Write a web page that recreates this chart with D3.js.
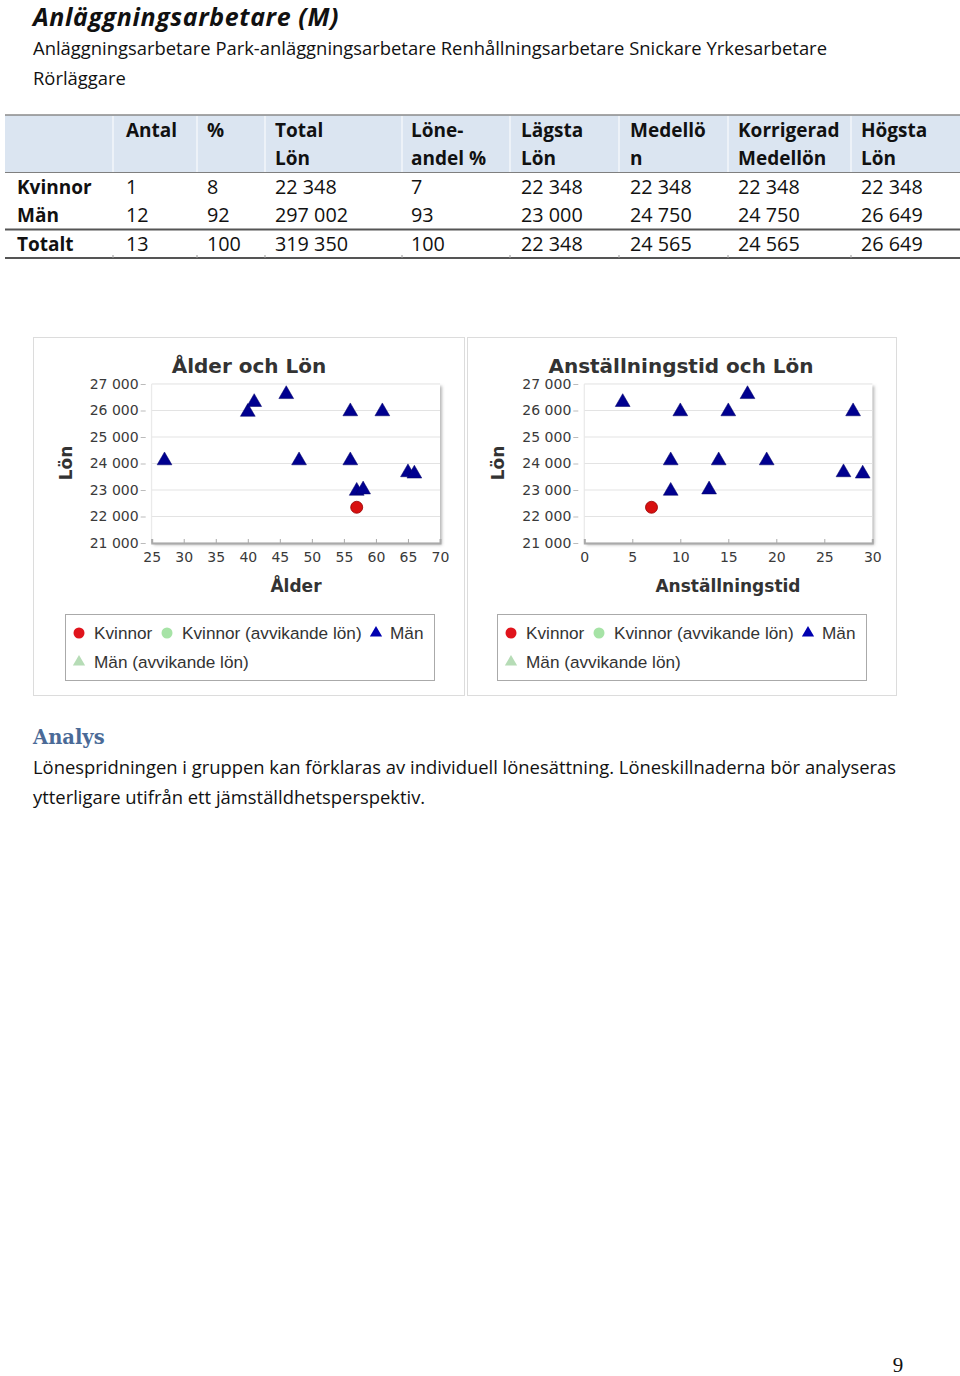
<!DOCTYPE html>
<html><head><meta charset="utf-8">
<script src="https://cdn.jsdelivr.net/npm/d3@7"></script>
<style>
html,body{margin:0;padding:0;background:#fff;}
svg{display:block;}
</style></head>
<body>
<svg id="page" width="960" height="1376"></svg>
<script>
// ---------- data ----------
const pageTitle = "Anläggningsarbetare (M)";
const subtitleLines = ["Anläggningsarbetare Park-anläggningsarbetare Renhållningsarbetare Snickare Yrkesarbetare", "Rörläggare"];

const tableHeaders = [["Antal"], ["%"], ["Total", "Lön"], ["Löne-", "andel %"], ["Lägsta", "Lön"], ["Medellö", "n"], ["Korrigerad", "Medellön"], ["Högsta", "Lön"]];
const rowLabels = ["Kvinnor", "Män", "Totalt"];
const rowKvinnor = ["1", "8", "22 348", "7", "22 348", "22 348", "22 348", "22 348"];
const rowMan = ["12", "92", "297 002", "93", "23 000", "24 750", "24 750", "26 649"];
const rowTotalt = ["13", "100", "319 350", "100", "22 348", "24 565", "24 565", "26 649"];

// Chart 1: Ålder och Lön
const ageMen = [27, 40, 41, 46, 48, 56, 56, 57, 58, 61, 65, 66];
const salaryMenAge = [24150, 25980, 26350, 26649, 24150, 26000, 24150, 23000, 23050, 26000, 23700, 23650];
const ageWomen = [57];
const salaryWomenAge = [22348];
const ageTicks = [25, 30, 35, 40, 45, 50, 55, 60, 65, 70];

// Chart 2: Anställningstid och Lön
const tenureMen = [4, 10, 15, 17, 28, 9, 14, 19, 9, 13, 27, 29];
const salaryMenTenure = [26350, 26000, 26000, 26649, 26000, 24150, 24150, 24150, 23000, 23050, 23700, 23650];
const tenureWomen = [7];
const salaryWomenTenure = [22348];
const tenureTicks = [0, 5, 10, 15, 20, 25, 30];

const salaryTicks = [21000, 22000, 23000, 24000, 25000, 26000, 27000];
const legendItems = ["Kvinnor", "Kvinnor (avvikande lön)", "Män", "Män (avvikande lön)"];

const analysHeading = "Analys";
const analysLines = ["Lönespridningen i gruppen kan förklaras av individuell lönesättning. Löneskillnaderna bör analyseras", "ytterligare utifrån ett jämställdhetsperspektiv."];
const pageNumber = "9";

// ---------- drawing ----------
const svg = d3.select("#page");
const bodyFont = "'Open Sans', 'Noto Sans', sans-serif";
const chartFont = "'DejaVu Sans', Verdana, sans-serif";
const legendFont = "'Liberation Sans', Arial, sans-serif";
const fmt = d => d3.format(",")(d).replace(/,/g, " ");

// Title
svg.append("text").attr("x", 33).attr("y", 26)
  .attr("font-family", bodyFont).attr("font-size", 25).attr("font-weight", 700).attr("font-style", "italic")
  .attr("letter-spacing", 0.6).attr("fill", "#111").text(pageTitle);
subtitleLines.forEach((t, i) => {
  svg.append("text").attr("x", 33).attr("y", 55 + i * 30)
    .attr("font-family", bodyFont).attr("font-size", 18.4).attr("fill", "#111").text(t);
});

// Table
const colX = [17, 126, 207, 275, 411, 521, 630, 738, 861];
const colBounds = [113, 197, 265, 402, 510, 619, 728, 851];
const tbl = svg.append("g");
tbl.append("rect").attr("x", 5).attr("y", 115).attr("width", 955).attr("height", 57).attr("fill", "#dbe5f1");
colBounds.forEach(x => tbl.append("line").attr("x1", x).attr("x2", x).attr("y1", 116).attr("y2", 172).attr("stroke", "#fff").attr("stroke-width", 1));
tbl.append("line").attr("x1", 5).attr("x2", 960).attr("y1", 115).attr("y2", 115).attr("stroke", "#8a8a8a").attr("stroke-width", 1.5);
tbl.append("line").attr("x1", 5).attr("x2", 960).attr("y1", 172.5).attr("y2", 172.5).attr("stroke", "#7f7f7f").attr("stroke-width", 1);
tbl.append("line").attr("x1", 5).attr("x2", 960).attr("y1", 229.5).attr("y2", 229.5).attr("stroke", "#555").attr("stroke-width", 2);
tbl.append("line").attr("x1", 5).attr("x2", 960).attr("y1", 258).attr("y2", 258).attr("stroke", "#555").attr("stroke-width", 2);
colBounds.forEach(x => tbl.append("line").attr("x1", x).attr("x2", x).attr("y1", 255).attr("y2", 258).attr("stroke", "#999").attr("stroke-width", 1));

tableHeaders.forEach((h, i) => {
  h.forEach((line, j) => {
    tbl.append("text").attr("x", colX[i + 1]).attr("y", 137 + j * 28)
      .attr("font-family", bodyFont).attr("font-size", 19).attr("font-weight", 700).attr("fill", "#111").text(line);
  });
});
const rows = [rowKvinnor, rowMan, rowTotalt];
const rowY = [194, 222, 251];
rows.forEach((r, ri) => {
  tbl.append("text").attr("x", colX[0]).attr("y", rowY[ri])
    .attr("font-family", bodyFont).attr("font-size", 19).attr("font-weight", 700).attr("fill", "#111").text(rowLabels[ri]);
  r.forEach((v, ci) => {
    tbl.append("text").attr("x", colX[ci + 1]).attr("y", rowY[ri])
      .attr("font-family", bodyFont).attr("font-size", 19.8).attr("fill", "#111").text(v);
  });
});

// Panels
svg.append("rect").attr("x", 33.5).attr("y", 337.5).attr("width", 431).attr("height", 358)
  .attr("fill", "#fff").attr("stroke", "#dcdcdc");
svg.append("rect").attr("x", 467.5).attr("y", 337.5).attr("width", 429).attr("height", 358)
  .attr("fill", "#fff").attr("stroke", "#dcdcdc");

const defs = svg.append("defs");
const flt = defs.append("filter").attr("id", "shadow").attr("x", "-5%").attr("y", "-5%").attr("width", "115%").attr("height", "115%");
flt.append("feDropShadow").attr("dx", 2).attr("dy", 2).attr("stdDeviation", 1.5).attr("flood-color", "#888").attr("flood-opacity", 0.6);

function scatter(cfg) {
  const g = svg.append("g");
  const x = d3.scaleLinear().domain(cfg.xDomain).range([cfg.left, cfg.right]);
  const y = d3.scaleLinear().domain([21000, 27000]).range([543, 384]);
  g.append("rect").attr("x", cfg.left).attr("y", 384).attr("width", cfg.right - cfg.left).attr("height", 543 - 384)
    .attr("fill", "#fff").attr("filter", "url(#shadow)");
  g.append("g").selectAll("line").data(salaryTicks).join("line")
    .attr("x1", cfg.left).attr("x2", cfg.right).attr("y1", d => y(d)).attr("y2", d => y(d))
    .attr("stroke", "#e3e3e3").attr("stroke-width", 1);
  const ya = g.append("g").attr("transform", `translate(${cfg.left - 6},0)`)
    .call(d3.axisLeft(y).tickValues(salaryTicks).tickFormat(fmt).tickSize(5).tickPadding(2));
  ya.select(".domain").remove();
  ya.selectAll("line").attr("stroke", "#bbb");
  ya.selectAll("text").attr("font-family", chartFont).attr("font-size", 14).attr("fill", "#3a3a3a");
  g.append("line").attr("x1", cfg.left).attr("x2", cfg.left).attr("y1", 384).attr("y2", 543).attr("stroke", "#e6e6e6");
  const xa = g.append("g").attr("transform", `translate(0,543)`)
    .call(d3.axisBottom(x).tickValues(cfg.xTicks).tickSize(-4).tickPadding(9));
  xa.select(".domain").attr("stroke", "#aaa").attr("stroke-width", 2);
  xa.selectAll("line").attr("stroke", "#aaa");
  xa.selectAll("text").attr("font-family", chartFont).attr("font-size", 14).attr("fill", "#3a3a3a");
  g.append("text").attr("x", cfg.titleX).attr("y", 373).attr("text-anchor", "middle")
    .attr("font-family", chartFont).attr("font-size", 20).attr("font-weight", 700).attr("fill", "#333").text(cfg.title);
  g.append("text").attr("x", cfg.xLabelX).attr("y", 592).attr("text-anchor", "middle")
    .attr("font-family", chartFont).attr("font-size", 17).attr("font-weight", 700).attr("fill", "#333").text(cfg.xLabel);
  g.append("text").attr("transform", `translate(${cfg.yLabelX},463) rotate(-90)`).attr("text-anchor", "middle")
    .attr("font-family", chartFont).attr("font-size", 17).attr("font-weight", 700).attr("fill", "#333").text("Lön");
  const tri = d3.symbol().type(d3.symbolTriangle).size(95);
  g.append("g").selectAll("path").data(cfg.menX.map((d, i) => [d, cfg.menY[i]])).join("path")
    .attr("d", tri).attr("transform", d => `translate(${x(d[0])},${y(d[1]) + 1})`)
    .attr("fill", "#00008f").attr("stroke", "#000066").attr("stroke-width", 0.5);
  g.append("g").selectAll("circle").data(cfg.womenX.map((d, i) => [d, cfg.womenY[i]])).join("circle")
    .attr("cx", d => x(d[0])).attr("cy", d => y(d[1])).attr("r", 6)
    .attr("fill", "#d81010").attr("stroke", "#900").attr("stroke-width", 0.8);
  const L = cfg.legendX;
  const lg = g.append("g");
  lg.append("rect").attr("x", L + 0.5).attr("y", 614.5).attr("width", 369).attr("height", 66)
    .attr("fill", "#fff").attr("stroke", "#aaa").attr("stroke-width", 1);
  const lf = s => s.attr("font-family", legendFont).attr("font-size", 17.2).attr("fill", "#333");
  lg.append("circle").attr("cx", L + 14).attr("cy", 633).attr("r", 5.5).attr("fill", "#e0141c");
  lf(lg.append("text").attr("x", L + 29).attr("y", 639).text(legendItems[0]));
  lg.append("circle").attr("cx", L + 102).attr("cy", 633).attr("r", 5.5).attr("fill", "#a6e3a6");
  lf(lg.append("text").attr("x", L + 117).attr("y", 639).text(legendItems[1]));
  lg.append("path").attr("d", d3.symbol().type(d3.symbolTriangle).size(65)).attr("transform", `translate(${L + 311},633)`).attr("fill", "#0000b0");
  lf(lg.append("text").attr("x", L + 325).attr("y", 639).text(legendItems[2]));
  lg.append("path").attr("d", d3.symbol().type(d3.symbolTriangle).size(65)).attr("transform", `translate(${L + 14},662)`).attr("fill", "#b6dcb6");
  lf(lg.append("text").attr("x", L + 29).attr("y", 668).text(legendItems[3]));
}

scatter({
  xDomain: [25, 70], left: 151.7, right: 440, xTicks: ageTicks,
  title: "Ålder och Lön", titleX: 249, xLabel: "Ålder", xLabelX: 296, yLabelX: 72,
  menX: ageMen, menY: salaryMenAge, womenX: ageWomen, womenY: salaryWomenAge, legendX: 65
});
scatter({
  xDomain: [0, 30], left: 584.3, right: 872.3, xTicks: tenureTicks,
  title: "Anställningstid och Lön", titleX: 681, xLabel: "Anställningstid", xLabelX: 728, yLabelX: 504,
  menX: tenureMen, menY: salaryMenTenure, womenX: tenureWomen, womenY: salaryWomenTenure, legendX: 497
});

// Analys
svg.append("text").attr("x", 33).attr("y", 744)
  .attr("font-family", "'DejaVu Serif', 'Liberation Serif', serif").attr("font-size", 19.5).attr("font-weight", 700)
  .attr("fill", "#4a6a97").text(analysHeading);
analysLines.forEach((t, i) => {
  svg.append("text").attr("x", 33).attr("y", 774 + i * 30)
    .attr("font-family", bodyFont).attr("font-size", 18.4).attr("fill", "#111").text(t);
});
svg.append("text").attr("x", 898).attr("y", 1372).attr("text-anchor", "middle")
  .attr("font-family", "'Liberation Serif', serif").attr("font-size", 21).attr("fill", "#111").text(pageNumber);
</script>
</body></html>
